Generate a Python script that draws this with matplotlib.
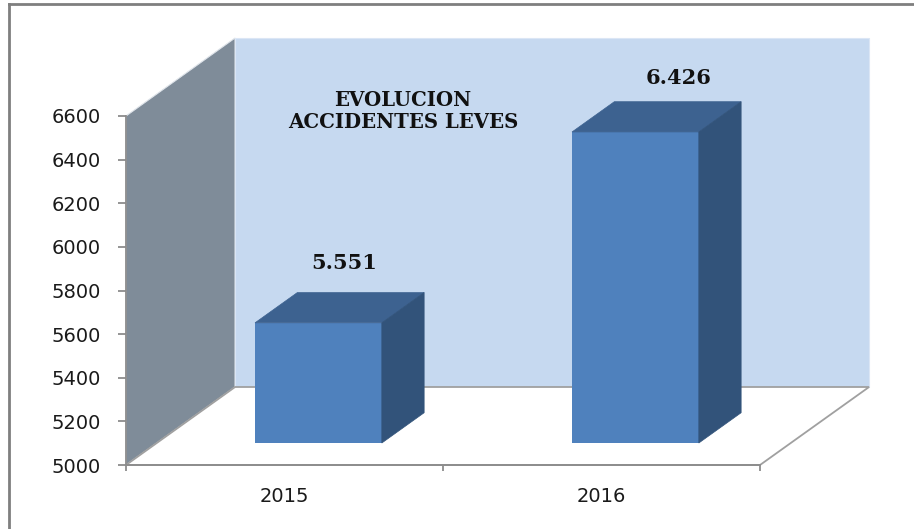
import numpy as np
import matplotlib.pyplot as plt
from matplotlib.patches import Polygon
from matplotlib.lines import Line2D

# datos
years = ['2015', '2016']
accidentes = [5551, 6426]
etiquetas = ['5.551', '6.426']
y_ticks = [5000, 5200, 5400, 5600, 5800, 6000, 6200, 6400, 6600]
titulo = 'EVOLUCION\nACCIDENTES LEVES'

base = y_ticks[0]
tope = y_ticks[-1]

# pseudo 3D: desplazamiento de profundidad en unidades de datos
DX, DY = 0.344, 357.6
d0, d1 = 0.282, 0.67
ancho = 0.4
shift = 0.01

def proj(x, y, d):
    return (x + d * DX, y + d * DY)

fig = plt.figure(figsize=(9.14, 5.29), dpi=100)
ax = fig.add_axes([0, 0, 1, 1])
ax.set_xlim(-0.3975, 2.4858)
ax.set_ylim(4706.6, 7131.8)
ax.patch.set_visible(False)

n = len(years)
# pared lateral
ax.add_patch(Polygon([proj(0, base, 0), proj(0, tope, 0), proj(0, tope, 1), proj(0, base, 1)],
                     closed=True, fc='#7f8c99', ec='#dfe4ea', lw=0.8, zorder=1))
# pared de fondo
ax.add_patch(Polygon([proj(0, base, 1), proj(n, base, 1), proj(n, tope, 1), proj(0, tope, 1)],
                     closed=True, fc='#c6d9f0', ec='#dbe6f5', lw=0.8, zorder=1))
# piso
ax.add_patch(Polygon([proj(0, base, 0), proj(n, base, 0), proj(n, base, 1), proj(0, base, 1)],
                     closed=True, fc='white', ec='#a0a0a0', lw=1.3, zorder=2))

x = np.arange(n) + 0.5
xb = x + shift
vals = np.array(accidentes)

# cara frontal
ax.bar(xb + d0 * DX, vals - base, bottom=base + d0 * DY, width=ancho,
       color='#4f81bd', zorder=4)
for xi, v in zip(xb, vals):
    top_face = [proj(xi - ancho/2, v, d0), proj(xi + ancho/2, v, d0),
                proj(xi + ancho/2, v, d1), proj(xi - ancho/2, v, d1)]
    side_face = [proj(xi + ancho/2, base, d0), proj(xi + ancho/2, v, d0),
                 proj(xi + ancho/2, v, d1), proj(xi + ancho/2, base, d1)]
    ax.add_patch(Polygon(top_face, closed=True, fc='#3d6290', ec='#3d6290', lw=0.5, zorder=4))
    ax.add_patch(Polygon(side_face, closed=True, fc='#32537a', ec='#32537a', lw=0.5, zorder=4))

# etiquetas de datos
label_offsets = [(3, 32), (16, 28)]
for xi, v, lab, off in zip(xb, vals, etiquetas, label_offsets):
    ax.annotate(lab, xy=proj(xi, v, (d0 + d1) / 2), xytext=off, textcoords='offset points',
                ha='center', va='center', fontsize=15, fontweight='bold',
                family='DejaVu Serif', color='#111111', zorder=6)

ax.text(0.874, 6622, titulo, ha='center', va='center', fontsize=14.2, fontweight='bold',
        family='DejaVu Serif', color='#111111', linespacing=1.1, zorder=6)

# ejes
for s in ['top', 'right']:
    ax.spines[s].set_visible(False)
ax.spines['left'].set_position(('data', 0))
ax.spines['bottom'].set_position(('data', base))
ax.spines['left'].set_bounds(base, tope)
ax.spines['bottom'].set_bounds(0, n)
for s in ['left', 'bottom']:
    ax.spines[s].set_color('#8c8c8c')
    ax.spines[s].set_linewidth(1.3)
    ax.spines[s].set_zorder(3)

ax.set_yticks(y_ticks)
ax.set_yticklabels([str(t) for t in y_ticks])
ax.tick_params(axis='y', length=6, width=1.3, color='#8c8c8c', pad=12,
               labelsize=14, labelcolor='#1a1a1a')
ax.set_xticks(np.arange(n + 1))
ax.set_xticklabels([])
ax.set_xticks(x, minor=True)
ax.set_xticklabels(years, minor=True)
ax.tick_params(axis='x', which='major', length=4, width=1.3, color='#8c8c8c')
ax.tick_params(axis='x', which='minor', length=0, pad=16, labelsize=14, labelcolor='#1a1a1a')

# marco exterior
fig.add_artist(Line2D([9/914, 9/914], [0, 1 - 4/529], transform=fig.transFigure, color='#7f7f7f', lw=2))
fig.add_artist(Line2D([9/914, 1], [1 - 4/529, 1 - 4/529], transform=fig.transFigure, color='#7f7f7f', lw=2))

fig.savefig('out.png', dpi=100)
